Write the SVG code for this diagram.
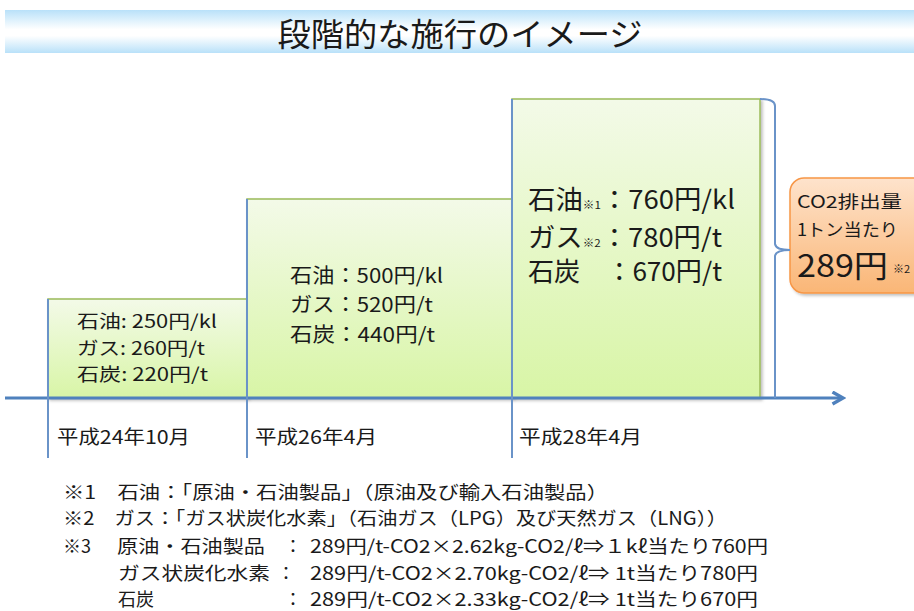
<svg xmlns="http://www.w3.org/2000/svg" width="914" height="611" viewBox="0 0 914 611">
<defs>
<linearGradient id="banner" x1="0" y1="0" x2="0" y2="1">
<stop offset="0" stop-color="#b9e1f9"/>
<stop offset="0.45" stop-color="#ffffff"/>
<stop offset="0.6" stop-color="#ffffff"/>
<stop offset="1" stop-color="#b9e1f9"/>
</linearGradient>
<linearGradient id="green" x1="0" y1="0" x2="0" y2="1">
<stop offset="0" stop-color="#f3fae8"/>
<stop offset="1" stop-color="#d8f5a6"/>
</linearGradient>
<linearGradient id="orange" x1="0" y1="0" x2="0" y2="1">
<stop offset="0" stop-color="#fee3cc"/>
<stop offset="1" stop-color="#fab676"/>
</linearGradient>
<filter id="sh" x="-10%" y="-10%" width="130%" height="130%">
<feDropShadow dx="2" dy="2" stdDeviation="1.5" flood-color="#000" flood-opacity="0.25"/>
</filter>
<marker id="arr" viewBox="0 0 10 10" refX="8" refY="5" markerWidth="5" markerHeight="5" orient="auto" markerUnits="strokeWidth">
<path d="M1,1 L8,5 L1,9" fill="none" stroke="#4f81bd" stroke-width="2.2"/>
</marker>
</defs>
<style>
text{font-family:"Noto Sans CJK JP","Noto Sans",sans-serif;fill:#1a1a1a}
.box{fill:url(#green);stroke:#9bbb59;stroke-width:1.5;filter:url(#sh)}
.vl{stroke:#6a93c8;stroke-width:2;fill:none}
.t1{font-size:18px}
.t2{font-size:20px}
.t3{font-size:26px}
.date{font-size:19px}
.note{font-size:18px}
</style>
<rect x="5" y="10" width="909" height="43" fill="url(#banner)"/>
<text x="460" y="46" text-anchor="middle" font-size="32" textLength="365" lengthAdjust="spacingAndGlyphs">段階的な施行のイメージ</text>

<g id="step1">
<rect class="box" x="48" y="299" width="199" height="99"/>
<text class="t1" x="77" y="328" textLength="140" lengthAdjust="spacingAndGlyphs">石油: 250円/kl</text>
<text class="t1" x="77" y="355" textLength="128" lengthAdjust="spacingAndGlyphs">ガス: 260円/t</text>
<text class="t1" x="77" y="381" textLength="131" lengthAdjust="spacingAndGlyphs">石炭: 220円/t</text>
</g>
<g id="step2">
<rect class="box" x="247" y="199" width="265" height="199"/>
<text class="t2" x="290" y="283" textLength="153" lengthAdjust="spacingAndGlyphs">石油：500円/kl</text>
<text class="t2" x="290" y="312" textLength="143" lengthAdjust="spacingAndGlyphs">ガス：520円/t</text>
<text class="t2" x="290" y="342" textLength="145" lengthAdjust="spacingAndGlyphs">石炭：440円/t</text>
</g>
<g id="step3">
<rect class="box" x="512" y="99" width="248" height="299"/>
<text class="t3" x="528" y="209" textLength="207" lengthAdjust="spacingAndGlyphs">石油<tspan font-size="11">※1</tspan>：760円/kl</text>
<text class="t3" x="528" y="247" textLength="194" lengthAdjust="spacingAndGlyphs">ガス<tspan font-size="11">※2</tspan>：780円/t</text>
<text class="t3" x="528" y="281" textLength="194" lengthAdjust="spacingAndGlyphs">石炭　：670円/t</text>
</g>
<g id="co2">
<rect x="790" y="178" width="140" height="115" rx="14" fill="url(#orange)" stroke="#f79646" stroke-width="1.5" filter="url(#sh)"/>
<text x="797" y="208" font-size="17" textLength="105" lengthAdjust="spacingAndGlyphs">CO2排出量</text>
<text x="797" y="236" font-size="17" textLength="101" lengthAdjust="spacingAndGlyphs">1トン当たり</text>
<text x="797" y="277" font-size="31" textLength="91" lengthAdjust="spacingAndGlyphs">289円</text>
<text x="893" y="273" font-size="11">※2</text>
</g>

<g id="connectors">
<line x1="5" y1="398" x2="843" y2="398" stroke="#4f81bd" stroke-width="3" marker-end="url(#arr)"/>
<line class="vl" x1="48" y1="299" x2="48" y2="458"/>
<line class="vl" x1="247" y1="199" x2="247" y2="458"/>
<line class="vl" x1="512" y1="99" x2="512" y2="458"/>
<path class="vl" d="M760,99 Q775,99 775,106 V244 Q776,250 790,250 M790,250 Q776,250 775,256 V398"/>
</g>

<g id="dates">
<text class="date" x="57" y="444" textLength="133" lengthAdjust="spacingAndGlyphs">平成24年10月</text>
<text class="date" x="255" y="444" textLength="122" lengthAdjust="spacingAndGlyphs">平成26年4月</text>
<text class="date" x="519" y="444" textLength="123" lengthAdjust="spacingAndGlyphs">平成28年4月</text>
</g>

<g id="notes">
<text class="note" x="63" y="499" textLength="545" lengthAdjust="spacingAndGlyphs">※1　石油：「原油・石油製品」（原油及び輸入石油製品）</text>
<text class="note" x="63" y="525" textLength="664" lengthAdjust="spacingAndGlyphs">※2　ガス：「ガス状炭化水素」（石油ガス（LPG）及び天然ガス（LNG））</text>
<text class="note" x="63" y="553">※3</text>
<text class="note" x="117" y="553" textLength="148" lengthAdjust="spacingAndGlyphs">原油・石油製品</text>
<text class="note" x="284" y="553">：</text>
<text class="note" x="310" y="553" textLength="458" lengthAdjust="spacingAndGlyphs">289円/t-CO2×2.62kg-CO2/ℓ⇒１kℓ当たり760円</text>
<text class="note" x="118" y="580" textLength="152" lengthAdjust="spacingAndGlyphs">ガス状炭化水素</text>
<text class="note" x="277" y="580">：</text>
<text class="note" x="310" y="580" textLength="448" lengthAdjust="spacingAndGlyphs">289円/t-CO2×2.70kg-CO2/ℓ⇒ 1t当たり780円</text>
<text class="note" x="118" y="606">石炭</text>
<text class="note" x="284" y="606">：</text>
<text class="note" x="310" y="606" textLength="448" lengthAdjust="spacingAndGlyphs">289円/t-CO2×2.33kg-CO2/ℓ⇒ 1t当たり670円</text>
</g>
</svg>
